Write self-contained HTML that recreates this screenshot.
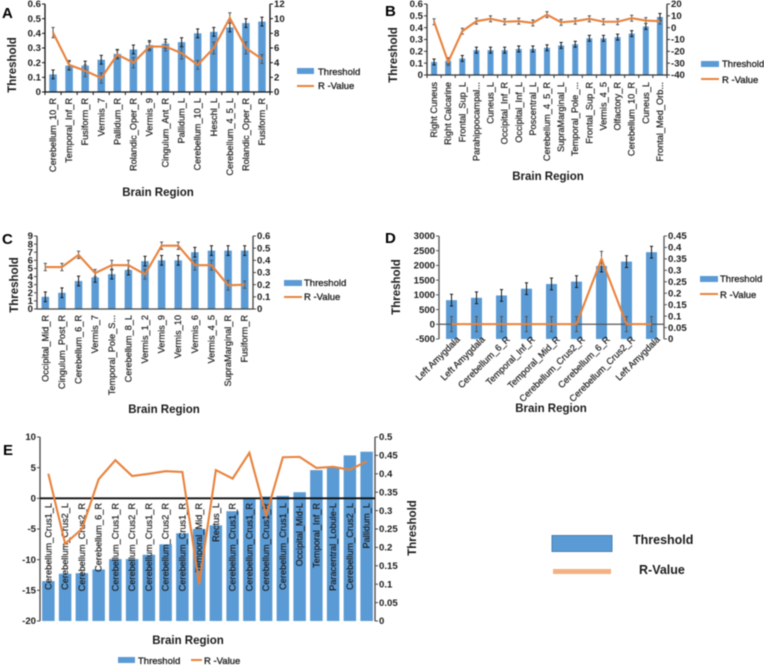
<!DOCTYPE html>
<html lang="en">
<head>
<meta charset="utf-8">
<title>Brain region threshold and R-value charts</title>
<style>
html,body{margin:0;padding:0;background:#fff;width:764px;height:665px;overflow:hidden}
svg{display:block;filter:blur(0.5px)}
text{font-family:"Liberation Sans",sans-serif;fill:#1c1c1c}
.tick{font-size:9.6px;font-weight:bold}
.cat{font-size:9.2px;stroke:#1c1c1c;stroke-width:.2px}
.leg{font-size:9.5px;stroke:#1c1c1c;stroke-width:.3px}
.title{font-size:11.5px;font-weight:bold}
.letter{font-size:15px;font-weight:bold;fill:#000}
</style>
</head>
<body>
<svg id="figure" xmlns="http://www.w3.org/2000/svg" width="764" height="665" viewBox="0 0 764 665">
  <g id="panel-a">
    <text class="letter" x="2" y="18">A</text>
    <text class="title" transform="translate(16,65) rotate(-90)" text-anchor="middle">Threshold</text>
    <text class="title" x="158" y="196" text-anchor="middle">Brain Region</text>
    <rect x="297" y="68" width="17" height="6" fill="#5b9bd5"/>
    <text class="leg" x="318" y="75">Threshold</text>
    <line x1="297" x2="314" y1="86" y2="86" stroke="#e8823c" stroke-width="2"/>
    <text class="leg" x="318" y="89">R -Value</text>
  </g>
  <g id="panel-b">
    <text class="letter" x="385" y="16">B</text>
    <text class="title" transform="translate(397,55) rotate(-90)" text-anchor="middle">Threshold</text>
    <text class="title" x="548" y="180" text-anchor="middle">Brain Region</text>
    <rect x="701" y="61" width="18" height="6" fill="#5b9bd5"/>
    <text class="leg" x="722" y="67">Threshold</text>
    <line x1="701" x2="719" y1="79" y2="79" stroke="#e8823c" stroke-width="2"/>
    <text class="leg" x="722" y="83">R -Value</text>
  </g>
  <g id="panel-c">
    <text class="letter" x="2" y="244">C</text>
    <text class="title" transform="translate(18,285) rotate(-90)" text-anchor="middle">Threshold</text>
    <text class="title" x="164" y="413" text-anchor="middle">Brain Region</text>
    <rect x="284" y="280" width="18" height="6" fill="#5b9bd5"/>
    <text class="leg" x="304" y="286">Threshold</text>
    <line x1="284" x2="302" y1="297" y2="297" stroke="#e8823c" stroke-width="2"/>
    <text class="leg" x="304" y="300">R -Value</text>
  </g>
  <g id="panel-d">
    <text class="letter" x="385" y="243">D</text>
    <text class="title" transform="translate(400,287) rotate(-90)" text-anchor="middle">Threshold</text>
    <text class="title" x="551" y="412" text-anchor="middle">Brain Region</text>
    <rect x="700" y="276" width="18" height="6" fill="#5b9bd5"/>
    <text class="leg" x="720" y="282">Threshold</text>
    <line x1="700" x2="718" y1="294" y2="294" stroke="#e8823c" stroke-width="2"/>
    <text class="leg" x="720" y="298">R -Value</text>
  </g>
  <g id="panel-e">
    <text class="letter" x="3" y="455">E</text>
    <text class="title" transform="translate(416,528) rotate(-90)" text-anchor="middle">Threshold</text>
    <text class="title" x="188" y="644" text-anchor="middle">Brain Region</text>
    <rect x="118" y="657" width="17" height="6" fill="#5b9bd5"/>
    <text class="leg" x="138" y="664">Threshold</text>
    <line x1="191" x2="202" y1="660" y2="660" stroke="#e8823c" stroke-width="2"/>
    <text class="leg" x="204" y="664">R -Value</text>
  </g>
  <g id="shared-legend">
    <rect x="552" y="535.5" width="60" height="16" fill="#5b9bd5" stroke="#4a80b0" stroke-width="1"/>
    <text x="633" y="544" font-size="12.5" font-weight="bold">Threshold</text>
    <rect x="553" y="569" width="58" height="5" fill="#f4b183"/>
    <text x="639" y="574" font-size="12.5" font-weight="bold">R-Value</text>
  </g>
</svg>
<script>
const aCategories = ["Cerebellum_10_R","Temporal_Inf_R","Fusiform_R","Vermis_7","Pallidum_R","Rolandic_Oper_R","Vermis_9","Cingulum_Ant_R","Pallidum_L","Cerebellum_10_L","Heschl_L","Cerebellum_4_5_L","Rolandic_Oper_R","Fusiform_R"];
const aThreshold = [0.12,0.18,0.18,0.22,0.26,0.29,0.32,0.33,0.34,0.40,0.41,0.44,0.47,0.48];
const aThresholdErr = [0.03,0.03,0.03,0.03,0.03,0.03,0.03,0.03,0.03,0.03,0.03,0.03,0.03,0.03];
const aRValue = [8.1,3.7,2.9,1.9,5.1,4.0,6.2,6.2,5.3,3.7,6.0,10.1,6.0,4.5];
const aRValueErr = [0.7,0.6,0.8,0.7,0.6,0.7,0.6,0.6,0.8,0.6,0.8,0.7,0.8,0.6];
const aLeftTicks = [0,0.1,0.2,0.3,0.4,0.5,0.6];
const aRightTicks = [0,2,4,6,8,10,12];

const bCategories = ["Right Cuneus","Right Calcarine","Frontal_Sup_L","Parahippocampal...","Cuneus_L","Occipital_Inf_R","Occipital_Inf_L","Poscentral_L","Cerebellum_4_5_R","SupraMarginal_L","Temporal_Pole_...","Frontal_Sup_R","Vermis_4_5","Olfactory_R","Cerebellum_10_R","Cuneus_L","Frontal_Med_Orb..."];
const bThreshold = [0.11,0.12,0.14,0.21,0.21,0.21,0.22,0.22,0.23,0.25,0.26,0.31,0.31,0.32,0.35,0.41,0.49];
const bThresholdErr = [0.025,0.025,0.025,0.025,0.025,0.025,0.025,0.025,0.025,0.025,0.025,0.025,0.025,0.025,0.025,0.025,0.03];
const bRValue = [5,-29,-3,5.5,7.5,5,5.5,4,11,4.5,5.5,7.5,5,5,8,6,5.5];
const bRValueErr = [2.5,3,2.5,2.5,2.5,2.5,2.5,2.5,2.5,2.5,2.5,2.5,2.5,2.5,2.5,2.5,2.5];
const bLeftTicks = [0,0.1,0.2,0.3,0.4,0.5,0.6];
const bRightTicks = [-40,-30,-20,-10,0,10,20];

const cCategories = ["Occipital_Mid_R","Cingulum_Post_R","Cerebellum_6_R","Vermis_7","Temporal_Pole_S...","Cerebellum_8_L","Vermis_1_2","Vermis_9","Vermis_10","Vermis_6","Vermis_4_5","SupraMarginal_R","Fusiform_R"];
const cThreshold = [1.5,2,3.45,3.9,4.3,4.8,5.9,6,6,7,7.2,7.2,7.2];
const cThresholdErr = [0.6,0.6,0.6,0.6,0.6,0.6,0.6,0.6,0.6,0.6,0.6,0.6,0.6];
const cRValue = [0.345,0.345,0.445,0.295,0.36,0.36,0.285,0.52,0.52,0.36,0.36,0.195,0.2];
const cRValueErr = [0.03,0.03,0.03,0.03,0.04,0.04,0.04,0.03,0.03,0.04,0.04,0.04,0.03];
const cLeftTicks = [0,1,2,3,4,5,6,7,8,9];
const cRightTicks = [0,0.1,0.2,0.3,0.4,0.5,0.6];

const dCategories = ["Left Amygdala","Left Amygdala","Cerebellum_6_R","Temporal_Inf_R","Temporal_Mid_R","Cerebellum_Crus2_R","Cerebellum_6_R","Cerebellum_Crus2_R","Left Amygdala"];
const dThreshold = [820,900,980,1210,1370,1450,1980,2130,2450];
const dThresholdErr = [200,200,200,200,200,200,200,200,200];
const dRValue = [0.065,0.065,0.065,0.065,0.065,0.065,0.35,0.065,0.065];
const dRValueErr = [0.033,0.033,0.033,0.033,0.033,0.033,0.033,0.033,0.033];
const dLeftTicks = [-500,0,500,1000,1500,2000,2500,3000];
const dRightTicks = [0,0.05,0.1,0.15,0.2,0.25,0.3,0.35,0.4,0.45];

const eCategories = ["Cerebellum_Crus1_L","Cerebellum_Crus2_L","Cerebellum_Crus2_R","Cerebellum_6_R","Cerebellum_Crus1_R","Cerebellum_Crus2_R","Cerebellum_Crus1_R","Cerebellum_Crus2_R","Cerebellum_Crus1_R","Temporal_Mid_R","Rectus_L","Cerebellum_Crus1_R","Cerebellum_Crus1_R","Cerebellum_Crus1_R","Cerebellum_Crus1_L","Occipital_Mid-L","Temporal_Inf_R","Paracentral_Lobule-L","Cerebellum_Crus2_L","Pallidum_L"];
const eThreshold = [-13.5,-12.3,-12.2,-11.6,-9.9,-9.9,-9.2,-7.5,-5.7,-5,-4.4,-2.1,-0.1,0.3,0.4,1,4.6,5.1,7,7.6];
const eRValue = [0.40,0.21,0.25,0.385,0.437,0.394,0.40,0.407,0.405,0.10,0.41,0.387,0.457,0.287,0.445,0.446,0.416,0.419,0.411,0.434];
const eLeftTicks = [-20,-15,-10,-5,0,5,10];
const eRightTicks = [0,0.05,0.1,0.15,0.2,0.25,0.3,0.35,0.4,0.45,0.5];

const SVG_NS = "http://www.w3.org/2000/svg";

function make(parent, tag, attrs, content) {
  const node = document.createElementNS(SVG_NS, tag);
  Object.keys(attrs).forEach(function (k) { node.setAttribute(k, attrs[k]); });
  if (content !== undefined) node.textContent = content;
  parent.appendChild(node);
  return node;
}

function linearScale(d0, d1, r0, r1) {
  return function (v) { return r0 + (v - d0) * (r1 - r0) / (d1 - d0); };
}

function drawPanel(o) {
  const root = document.getElementById(o.id);
  const n = o.categories.length;
  const step = (o.x1 - o.x0) / n;
  const xAt = function (i) { return o.x0 + step * (i + 0.5); };
  const yL = linearScale(o.leftTicks[0], o.leftTicks[o.leftTicks.length - 1], o.yBottom, o.yTop);
  const yR = linearScale(o.rightTicks[0], o.rightTicks[o.rightTicks.length - 1], o.yBottom, o.yTop);

  o.threshold.forEach(function (v, i) {
    const top = yL(v);
    const bar = make(root, "rect", { x: xAt(i) - o.barWidth / 2, y: top, width: o.barWidth, height: o.yBottom - top, fill: "#5b9bd5" });
    
    
  });

  const axisColor = o.axisColor;
  const leftAxis = make(root, "line", { x1: o.x0, x2: o.x0, y1: o.yTop, y2: o.yBottom, stroke: axisColor, "stroke-width": 1.3 });
  
  
  const rightAxis = make(root, "line", { x1: o.x1, x2: o.x1, y1: o.yTop, y2: o.yBottom, stroke: axisColor, "stroke-width": 1.3 });
  
  

  const baseY = o.baseValue === undefined ? o.yBottom : yL(o.baseValue);
  const baseline = make(root, "line", { x1: o.x0, x2: o.x1, y1: baseY, y2: baseY, stroke: o.baseColor || axisColor, "stroke-width": o.baseWidth || 1.3 });
  
  

  if (o.catTicks) {
    for (let i = 0; i <= n; i++) {
      const cx = o.x0 + step * i;
      const mark = make(root, "line", { x1: cx, x2: cx, y1: baseY, y2: baseY + 3, stroke: axisColor, "stroke-width": 1 });
      
      
    }
  }

  o.leftTicks.forEach(function (t) {
    const y = yL(t);
    const mark = make(root, "line", { x1: o.x0 - 3, x2: o.x0, y1: y, y2: y, stroke: axisColor, "stroke-width": 1 });
    
    
    const label = make(root, "text", { class: "tick", x: o.x0 - 4, y: y + 3.2, "text-anchor": "end" }, String(t));
    
    
  });

  o.rightTicks.forEach(function (t) {
    const y = yR(t);
    const mark = make(root, "line", { x1: o.x1, x2: o.x1 + 3, y1: y, y2: y, stroke: axisColor, "stroke-width": 1 });
    
    
    const label = make(root, "text", { class: "tick", x: o.x1 + 4, y: y + 3.2 }, String(t));
    
    
  });

  o.categories.forEach(function (c, i) {
    const angle = o.labelAngle;
    const lx = xAt(i) + (angle === -90 ? 3 : 9);
    const label = make(root, "text", { class: "cat", "text-anchor": "end", transform: "translate(" + lx + "," + o.labelY + ") rotate(" + angle + ")" }, c);
    
    
  });

  function errorBar(x, y0, y1, color, name) {
    const g = make(root, "g", { stroke: color, "stroke-width": 1, fill: "none" });
    
    
    make(g, "line", { x1: x, x2: x, y1: y0, y2: y1 });
    make(g, "line", { x1: x - 1.6, x2: x + 1.6, y1: y0, y2: y0 });
    make(g, "line", { x1: x - 1.6, x2: x + 1.6, y1: y1, y2: y1 });
  }

  if (o.thresholdErr) {
    o.threshold.forEach(function (v, i) {
      errorBar(xAt(i), yL(v - o.thresholdErr[i]), yL(v + o.thresholdErr[i]), "#1a1a1a", "threshold-error-bar");
    });
  }
  if (o.rValueErr) {
    o.rValue.forEach(function (v, i) {
      errorBar(xAt(i), yR(v - o.rValueErr[i]), yR(v + o.rValueErr[i]), "#555555", "r-value-error-bar");
    });
  }

  const points = o.rValue.map(function (v, i) { return xAt(i) + "," + yR(v); }).join(" ");
  const line = make(root, "polyline", { points: points, fill: "none", stroke: "#e8823c", "stroke-width": 2.1, "stroke-linejoin": "miter" });
  
  
}

drawPanel({ id: "panel-a", x0: 45, x1: 270, yTop: 4, yBottom: 92, barWidth: 7.5, axisColor: "#111111", catTicks: true, labelAngle: -90, labelY: 98, categories: aCategories, threshold: aThreshold, thresholdErr: aThresholdErr, rValue: aRValue, rValueErr: aRValueErr, leftTicks: aLeftTicks, rightTicks: aRightTicks });
drawPanel({ id: "panel-b", x0: 427, x1: 667, yTop: 4, yBottom: 75, barWidth: 6, axisColor: "#333333", catTicks: true, labelAngle: -90, labelY: 82, categories: bCategories, threshold: bThreshold, thresholdErr: bThresholdErr, rValue: bRValue, rValueErr: bRValueErr, leftTicks: bLeftTicks, rightTicks: bRightTicks });
drawPanel({ id: "panel-c", x0: 37, x1: 253, yTop: 236, yBottom: 309, barWidth: 7.5, axisColor: "#444444", catTicks: false, labelAngle: -90, labelY: 315, categories: cCategories, threshold: cThreshold, thresholdErr: cThresholdErr, rValue: cRValue, rValueErr: cRValueErr, leftTicks: cLeftTicks, rightTicks: cRightTicks });
drawPanel({ id: "panel-d", x0: 439, x1: 664, yTop: 236, yBottom: 339, barWidth: 11, axisColor: "#555555", catTicks: false, labelAngle: -45, labelY: 340, baseValue: 0, categories: dCategories, threshold: dThreshold, thresholdErr: dThresholdErr, rValue: dRValue, rValueErr: dRValueErr, leftTicks: dLeftTicks, rightTicks: dRightTicks });
drawPanel({ id: "panel-e", x0: 40, x1: 375, yTop: 437, yBottom: 621, barWidth: 12.5, axisColor: "#444444", catTicks: false, labelAngle: -90, labelY: 503, baseValue: 0, baseColor: "#111111", baseWidth: 1.8, categories: eCategories, threshold: eThreshold, rValue: eRValue, leftTicks: eLeftTicks, rightTicks: eRightTicks });
</script>
</body>
</html>
